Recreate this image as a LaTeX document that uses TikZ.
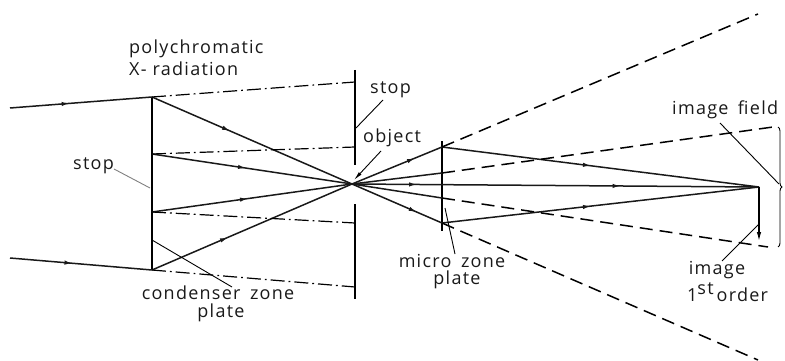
\documentclass[tikz,border=0pt]{standalone}
\usepackage{fontspec}
\setmainfont{Open Sans}[LetterSpace=7,WordSpace=1.6]
\usetikzlibrary{arrows.meta,decorations.markings,decorations.pathreplacing}
\tikzset{
  headtip/.tip={Latex[length=8pt,width=4.4pt]},
  ray/.style={line width=1.5pt,black!90},
  flow/.style={ray,postaction={decorate},decoration={markings,mark=at position #1 with {\arrow{headtip}}}},
  dashdot/.style={line width=1.2pt,dash pattern=on 14pt off 4pt on 1.8pt off 4pt},
  longdash/.style={line width=1.5pt,dash pattern=on 13pt off 7pt},
  plate/.style={line width=1.8pt},
  stopbar/.style={line width=2.8pt},
  leader/.style={line width=.9pt},
  lbl/.style={inner sep=0pt,text height=12pt,text depth=4pt,font=\fontsize{18}{20}\selectfont,text=black!90},
}
\begin{document}
\begin{tikzpicture}[x=1pt,y=-1pt]
\useasboundingbox (0,0) rectangle (785,361);
% coordinates
\coordinate (inA) at (10,108);
\coordinate (inB) at (10,258);
\coordinate (cA) at (152,97);
\coordinate (cB) at (152,154);
\coordinate (cC) at (152,212);
\coordinate (cD) at (152,270);
\coordinate (O) at (352,184);
\coordinate (mA) at (442,147);
\coordinate (mB) at (442,173);
\coordinate (mC) at (442,198);
\coordinate (mD) at (442,223);
\coordinate (I) at (759,187);
\coordinate (Itip) at (759,242);
\coordinate (sA) at (355,82);
\coordinate (sB) at (355,147);
\coordinate (sC) at (355,223);
\coordinate (sD) at (355,287);
\coordinate (dA) at (758,14);
\coordinate (dB) at (773,127);
\coordinate (dC) at (768,247);
\coordinate (dD) at (758,360);
% plates and stops
\draw[plate] (cA) -- (cD);
\draw[stopbar] (cB) -- (cC);
\draw[stopbar] (355,70) -- (355,165);
\draw[stopbar] (355,204) -- (355,299);
\draw[stopbar] (442,141) -- (442,231);
% incoming rays
\draw[flow=.42] (inA) -- (cA);
\draw[flow=.44] (inB) -- (cD);
% condenser rays
\draw[flow=.39] (cA) -- (O);
\draw[flow=.47] (cB) -- (O);
\draw[flow=.48] (cC) -- (O);
\draw[flow=.38] (cD) -- (O);
% zero order
\draw[dashdot] (cA) -- (sA);
\draw[dashdot] (cB) -- (sB);
\draw[dashdot] (cC) -- (sC);
\draw[dashdot] (cD) -- (sD);
% after the object
\draw[flow=.7] (O) -- (mA);
\draw[ray] (O) -- (mB);
\draw[ray] (O) -- (mC);
\draw[flow=.72] (O) -- (mD);
\draw[ray,postaction={decorate},decoration={markings,
  mark=at position .16 with {\arrow{headtip}},
  mark=at position .66 with {\arrow{headtip}}}] (O) -- (I);
\draw[flow=.47] (mA) -- (I);
\draw[flow=.47] (mD) -- (I);
\draw[longdash] (mA) -- (dA);
\draw[longdash] (mB) -- (dB);
\draw[longdash] (mC) -- (dC);
\draw[longdash] (mD) -- (dD);
% image
\draw[line width=1.6pt,-{Latex[length=10pt,width=4.4pt]}] (I) -- (Itip);
% brace
\draw[line width=.9pt,decorate,decoration={brace,amplitude=4pt}] (778,127) -- (778,247);
% labels
\node[lbl,anchor=west] (poly) at (129,50) {polychromatic};
\node[lbl,anchor=west] (xrad) at (129,72) {X-\hspace{6pt}radiation};
\node[lbl,anchor=west] (stopL) at (73,165) {stop};
\node[lbl,anchor=center] (cond) at (218,295) {condenser zone};
\node[lbl,anchor=center] (condp) at (221,313) {plate};
\node[lbl,anchor=west] (stopR) at (370,90) {stop};
\node[lbl,anchor=west] (obj) at (363,138) {object};
\node[lbl,anchor=center] (micro) at (452,263) {micro zone};
\node[lbl,anchor=center] (microp) at (457,280) {plate};
\node[lbl,anchor=west] (field) at (672,110) {image field};
\node[lbl,anchor=center] (img) at (717,270) {image};
\node[lbl,anchor=west] (order) at (687,297) {1\raisebox{7pt}{st}\,order};
% leaders
\coordinate (lS) at (150,188);
\coordinate (lC) at (152,240);
\coordinate (lR) at (356,128);
\coordinate (lO) at (354,180);
\coordinate (lM) at (445,208);
\coordinate (lF) at (779,184);
\coordinate (lI) at (759,224);
\draw[leader,black!50] (114,169) -- (lS);
\draw[leader] (lC) -- (232,287);
\draw[leader] (383,100) -- (lR);
\draw[leader,-{Latex[length=9pt,width=3.6pt]}] (381,151) -- (lO);
\draw[leader] (lM) -- (455,254);
\draw[leader] (720,123) -- (lF);
\draw[leader] (722,261) -- (lI);
\end{tikzpicture}
\end{document}
